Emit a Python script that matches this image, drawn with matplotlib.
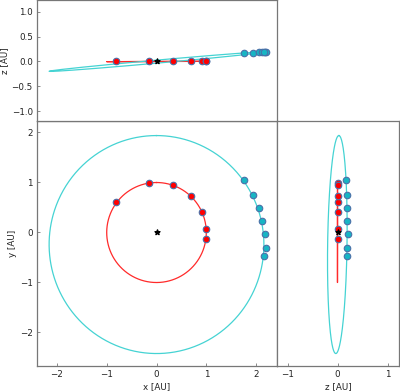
import numpy as np
import matplotlib
matplotlib.use("Agg")
import matplotlib.pyplot as plt

# orbital elements (AU, degrees)
orbit_names = ["inner", "outer"]
orbit_a = [1.0, 2.18]
orbit_e = [0.01, 0.115]
orbit_inc = [0.2, 5.2]
orbit_Omega = [-81.1, -81.1]
orbit_omega = [171.1, 171.1]
orbit_colors = ["#ff2a2a", "#45d3d3"]
dot_colors = ["#ff0000", "#17b5c4"]

# particle snapshots (AU)
inner_x = [-0.81, -0.15, 0.34, 0.70, 0.92, 1.00, 0.99]
inner_y = [0.60, 0.99, 0.95, 0.72, 0.40, 0.06, -0.14]
inner_z = [0.00, 0.00, 0.00, 0.00, 0.00, 0.00, 0.00]

outer_x = [1.75, 1.94, 2.05, 2.12, 2.17, 2.19, 2.16]
outer_y = [1.05, 0.75, 0.49, 0.22, -0.04, -0.31, -0.47]
outer_z = [0.17, 0.18, 0.19, 0.19, 0.20, 0.19, 0.19]

xy_ticks = [-2, -1, 0, 1, 2]
z_ticks_top = [-1.0, -0.5, 0.0, 0.5, 1.0]
z_ticks_right = [-1, 0, 1]


def orbit_path(a, e, inc, Omega, omega, n=600):
    """Return x, y, z of a Keplerian ellipse around the origin."""
    inc, Omega, omega = np.radians([inc, Omega, omega])
    f = np.linspace(0, 2 * np.pi, n)
    r = a * (1 - e**2) / (1 + e * np.cos(f))
    u = omega + f
    x = r * (np.cos(Omega) * np.cos(u) - np.sin(Omega) * np.sin(u) * np.cos(inc))
    y = r * (np.sin(Omega) * np.cos(u) + np.cos(Omega) * np.sin(u) * np.cos(inc))
    z = r * np.sin(u) * np.sin(inc)
    return x, y, z


plt.rcParams["font.size"] = 6.3
plt.rcParams["axes.edgecolor"] = "#777777"
plt.rcParams["axes.linewidth"] = 0.9

fig = plt.figure(figsize=(4.0, 3.91), dpi=100)
ax_main = fig.add_axes([0.0925, 0.0639, 0.6, 0.6266])
ax_top = fig.add_axes([0.0925, 0.6905, 0.6, 0.3095], sharex=ax_main)
ax_right = fig.add_axes([0.6925, 0.0639, 0.305, 0.6266], sharey=ax_main)

particles = [
    (inner_x, inner_y, inner_z),
    (outer_x, outer_y, outer_z),
]

for i in range(len(orbit_names)):
    ox, oy, oz = orbit_path(orbit_a[i], orbit_e[i], orbit_inc[i],
                            orbit_Omega[i], orbit_omega[i])
    ax_main.plot(ox, oy, color=orbit_colors[i], lw=0.9, zorder=1)
    ax_top.plot(ox, oz, color=orbit_colors[i], lw=0.9, zorder=1)
    ax_right.plot(oz, oy, color=orbit_colors[i], lw=0.9, zorder=1)

    px, py, pz = particles[i]
    kw = dict(s=22, facecolor=dot_colors[i], edgecolor="#4a70a8", linewidths=0.8, zorder=3)
    ax_main.scatter(px, py, **kw)
    ax_top.scatter(px, pz, **kw)
    ax_right.scatter(pz, py, **kw)

# central star
for ax in (ax_main, ax_top, ax_right):
    ax.scatter([0], [0], marker="*", s=14, color="black", zorder=5)
    ax.tick_params(direction="in", length=2.5, width=0.6, colors="#777777",
                   labelcolor="#222222", top=False, right=False, pad=3)

ax_main.set_xlim(-2.40, 2.42)
ax_main.set_ylim(-2.68, 2.22)
ax_main.set_xticks(xy_ticks)
ax_main.set_yticks(xy_ticks)
ax_main.set_xlabel("x [AU]", labelpad=2, color="#222222")
ax_main.set_ylabel("y [AU]", labelpad=2, color="#222222")

ax_top.set_ylim(-1.2, 1.24)
ax_top.set_yticks(z_ticks_top)
ax_top.set_ylabel("z [AU]", labelpad=2, color="#222222")
ax_top.tick_params(labelbottom=False, bottom=False)

ax_right.set_xlim(-1.21, 1.23)
ax_right.set_xticks(z_ticks_right)
ax_right.set_xlabel("z [AU]", labelpad=2, color="#222222")
ax_right.tick_params(labelleft=False, left=False)

fig.savefig("out.png", dpi=100)
